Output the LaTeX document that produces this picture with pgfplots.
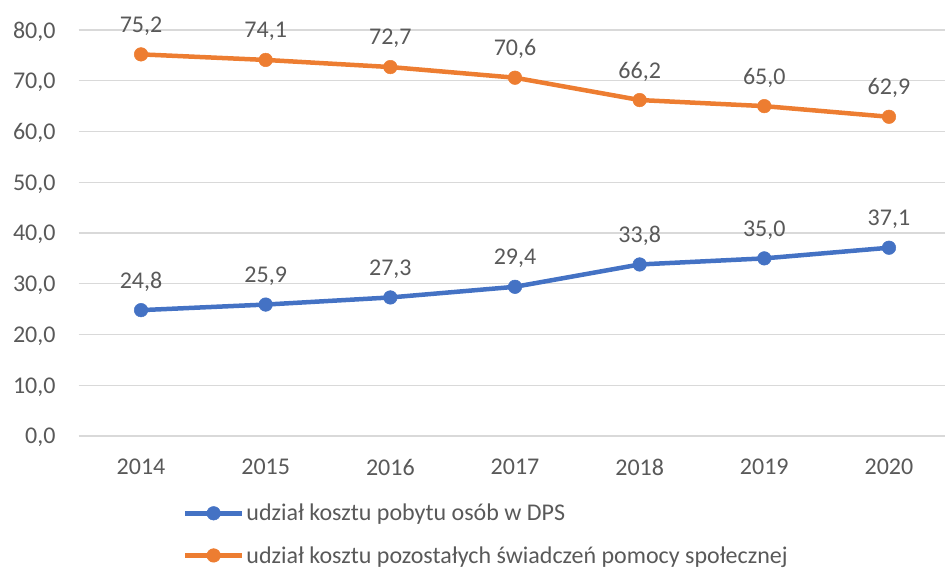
\documentclass[border=0pt]{standalone}
\usepackage{fontspec}
\setmainfont{Carlito}
\usepackage{pgfplots}
\pgfplotsset{compat=1.18}
\definecolor{cblue}{HTML}{4472C4}
\definecolor{corange}{HTML}{ED7D31}
\definecolor{cgrid}{HTML}{D9D9D9}
\definecolor{ctext}{HTML}{595959}
\begin{document}
\begin{tikzpicture}[x=1pt,y=1pt]
\begin{axis}[
 at={(78.7pt,132pt)}, anchor=south west,
 scale only axis, width=872.6pt, height=406pt,
 xmin=2013.5, xmax=2020.5, ymin=0, ymax=80,
 xtick={2014,2015,2016,2017,2018,2019,2020},
 xticklabels={2014,2015,2016,2017,2018,2019,2020},
 ytick={0,10,20,30,40,50,60,70,80},
 ymajorgrids, major grid style={cgrid, line width=1.3pt},
 axis line style={draw=none},
 major tick length=0pt,
 tick label style={font=\fontsize{24}{28}\selectfont, text=ctext},
 yticklabel style={anchor=east, inner sep=0pt, xshift=-23pt, text depth=0pt,
   /pgf/number format/fixed, /pgf/number format/fixed zerofill,
   /pgf/number format/precision=1, /pgf/number format/use comma,
   /pgf/number format/assume math mode=true},
 xticklabel style={anchor=center, yshift=-31pt},
 clip=false,
 nodes near coords={\pgfmathprintnumber[fixed,fixed zerofill,precision=1,use comma,assume math mode=true]{\pgfplotspointmeta}},
 every node near coord/.append style={font=\fontsize{24}{28}\selectfont, text=ctext, anchor=center, yshift=30pt, text depth=0pt},
 legend cell align=left,
 legend style={draw=none, fill=none, at={(axis description cs:0,0)}, anchor=north west,
   xshift=104pt, yshift=-66pt, font=\fontsize{24}{28}\selectfont, text=ctext,
   row sep=20pt, inner sep=0pt},
 legend image code/.code={\draw[mark repeat=2, mark phase=2, #1] plot coordinates {(0pt,0pt) (28.5pt,0pt) (57pt,0pt)};},
]
\addplot[cblue, line width=4.5pt, line join=round, mark=*, mark size=6.8pt,
  mark options={solid, fill=cblue, line width=0.5pt}]
  coordinates {(2014,24.8) (2015,25.9) (2016,27.3) (2017,29.4) (2018,33.8) (2019,35.0) (2020,37.1)};
\addlegendentry{udział kosztu pobytu osób w DPS}
\addplot[corange, line width=4.5pt, line join=round, mark=*, mark size=6.8pt,
  mark options={solid, fill=corange, line width=0.5pt}]
  coordinates {(2014,75.2) (2015,74.1) (2016,72.7) (2017,70.6) (2018,66.2) (2019,65.0) (2020,62.9)};
\addlegendentry{udział kosztu pozostałych świadczeń pomocy społecznej}
\end{axis}
\pgfresetboundingbox
\path[use as bounding box] (0,0) rectangle (945pt,568pt);
\end{tikzpicture}
\end{document}
